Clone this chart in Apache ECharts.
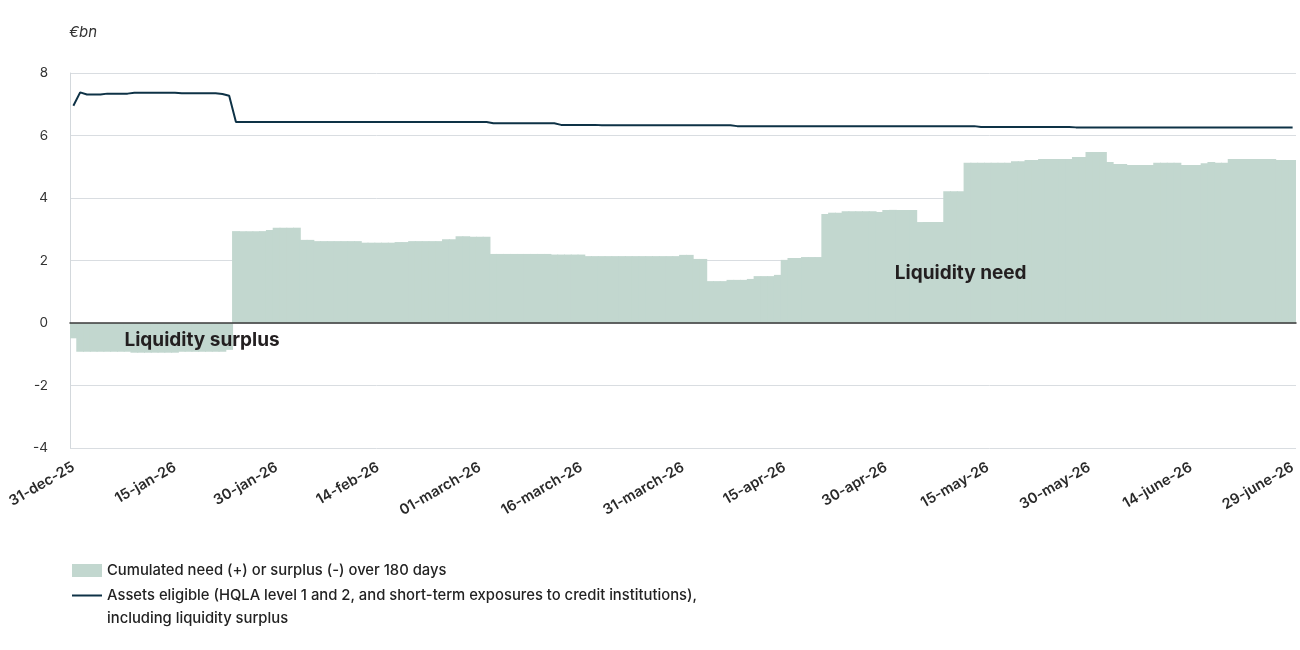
<!DOCTYPE html>
<html>
<head>
<meta charset="utf-8">
<script src="https://cdn.jsdelivr.net/npm/echarts@6/dist/echarts.min.js"></script>
<style>
  html, body { margin: 0; padding: 0; background: #fff; }
  #chart { width: 1300px; height: 650px; }
</style>
</head>
<body>
<div id="chart"></div>
<script>
// Daily categories, 31-dec-25 .. 29-june-26 (181 days)
const monthNames = ['jan', 'feb', 'march', 'apr', 'may', 'june', 'july', 'aug', 'sep', 'oct', 'nov', 'dec'];
const startDate = new Date(Date.UTC(2025, 11, 31));
const dayCount = 181;

// Cumulated need (+) or surplus (-) over 180 days, €bn
const needSurplus = [
  -0.49, -0.92, -0.92, -0.92, -0.92, -0.92, -0.92, -0.92, -0.92, -0.95, -0.95, -0.95, -0.95, -0.95, -0.95,
  -0.95, -0.92, -0.92, -0.92, -0.92, -0.92, -0.92, -0.92, -0.86, 2.94, 2.94, 2.94, 2.94, 2.94, 2.98,
  3.05, 3.05, 3.05, 3.05, 2.66, 2.66, 2.62, 2.62, 2.62, 2.62, 2.62, 2.62, 2.62, 2.57, 2.57,
  2.57, 2.57, 2.57, 2.59, 2.59, 2.62, 2.62, 2.62, 2.62, 2.62, 2.68, 2.68, 2.78, 2.78, 2.76,
  2.76, 2.76, 2.21, 2.21, 2.21, 2.21, 2.21, 2.21, 2.21, 2.21, 2.21, 2.19, 2.19, 2.19, 2.19,
  2.19, 2.14, 2.14, 2.14, 2.14, 2.14, 2.14, 2.14, 2.14, 2.14, 2.14, 2.14, 2.14, 2.14, 2.14,
  2.18, 2.18, 2.05, 2.05, 1.34, 1.34, 1.34, 1.38, 1.38, 1.38, 1.41, 1.50, 1.50, 1.50, 1.54,
  2.02, 2.08, 2.08, 2.11, 2.11, 2.11, 3.49, 3.53, 3.53, 3.58, 3.58, 3.58, 3.58, 3.58, 3.55,
  3.62, 3.62, 3.62, 3.62, 3.62, 3.23, 3.23, 3.23, 3.23, 4.22, 4.22, 4.22, 5.13, 5.13, 5.13,
  5.13, 5.13, 5.13, 5.13, 5.18, 5.18, 5.22, 5.22, 5.25, 5.25, 5.25, 5.25, 5.25, 5.31, 5.31,
  5.47, 5.47, 5.47, 5.15, 5.09, 5.09, 5.06, 5.06, 5.06, 5.06, 5.13, 5.13, 5.13, 5.13, 5.06,
  5.06, 5.06, 5.11, 5.15, 5.13, 5.13, 5.25, 5.25, 5.25, 5.25, 5.25, 5.25, 5.25, 5.22, 5.22,
  5.22
];

// Eligible assets incl. liquidity surplus, €bn
const eligibleAssets = [
  6.95, 7.38, 7.31, 7.31, 7.31, 7.34, 7.34, 7.34, 7.34, 7.37, 7.37, 7.37, 7.37, 7.37, 7.37,
  7.37, 7.35, 7.35, 7.35, 7.35, 7.35, 7.35, 7.33, 7.27, 6.43, 6.43, 6.43, 6.43, 6.43, 6.43,
  6.43, 6.43, 6.43, 6.43, 6.43, 6.43, 6.43, 6.43, 6.43, 6.43, 6.43, 6.43, 6.43, 6.43, 6.43,
  6.43, 6.43, 6.43, 6.43, 6.43, 6.43, 6.43, 6.43, 6.43, 6.43, 6.43, 6.43, 6.43, 6.43, 6.43,
  6.43, 6.43, 6.39, 6.39, 6.39, 6.39, 6.39, 6.39, 6.39, 6.39, 6.39, 6.39, 6.34, 6.34, 6.34,
  6.34, 6.34, 6.34, 6.33, 6.33, 6.33, 6.33, 6.33, 6.33, 6.33, 6.33, 6.33, 6.33, 6.33, 6.33,
  6.33, 6.33, 6.33, 6.33, 6.33, 6.33, 6.33, 6.33, 6.30, 6.30, 6.30, 6.30, 6.30, 6.30, 6.30,
  6.30, 6.30, 6.30, 6.30, 6.30, 6.30, 6.30, 6.30, 6.30, 6.30, 6.30, 6.30, 6.30, 6.30, 6.30,
  6.30, 6.30, 6.30, 6.30, 6.30, 6.30, 6.30, 6.30, 6.30, 6.30, 6.30, 6.30, 6.30, 6.30, 6.27,
  6.27, 6.27, 6.27, 6.27, 6.27, 6.27, 6.27, 6.27, 6.27, 6.27, 6.27, 6.27, 6.27, 6.26, 6.26,
  6.26, 6.26, 6.26, 6.26, 6.26, 6.26, 6.26, 6.26, 6.26, 6.26, 6.26, 6.26, 6.26, 6.26, 6.26,
  6.26, 6.26, 6.26, 6.26, 6.26, 6.26, 6.26, 6.26, 6.26, 6.26, 6.26, 6.26, 6.26, 6.26, 6.26,
  6.26
];

const needName = 'Cumulated need (+) or surplus (-) over 180 days';
const assetsName = 'Assets eligible (HQLA level 1 and 2, and short-term exposures to credit institutions),';
const assetsName2 = 'including liquidity surplus';

const days = [];
for (let i = 0; i < dayCount; i++) {
  const d = new Date(startDate.getTime() + i * 86400000);
  const dd = String(d.getUTCDate()).padStart(2, '0');
  const yy = String(d.getUTCFullYear()).slice(2);
  days.push(dd + '-' + monthNames[d.getUTCMonth()] + '-' + yy);
}

const font = 'Inter, "Noto Sans", sans-serif';
const chart = echarts.init(document.getElementById('chart'));

chart.setOption({
  animation: false,
  backgroundColor: '#ffffff',
  textStyle: { fontFamily: font },
  title: {
    text: '€bn',
    left: 64,
    top: 20,
    textStyle: { fontSize: 15, fontStyle: 'italic', fontWeight: 'normal', color: '#333', fontFamily: font }
  },
  grid: { left: 70, right: 4, top: 73, bottom: 202, containLabel: false },
  legend: {
    orient: 'vertical',
    left: 72,
    top: 559,
    height: 150,
    padding: 0,
    itemGap: -21,
    itemWidth: 30,
    itemHeight: 13,
    selectedMode: false,
    textStyle: { fontSize: 14.8, fontWeight: 500, color: '#222', lineHeight: 23, fontFamily: font },
    formatter: function (name) {
      return name === assetsName ? '\n' + name + '\n' + assetsName2 : name;
    },
    data: [
      { name: needName, icon: 'rect' },
      { name: assetsName, icon: 'path://M0,0 L30,0 L30,2 L0,2 Z', itemStyle: { color: '#0e3246' } }
    ]
  },
  xAxis: {
    type: 'category',
    data: days,
    z: 5,
    axisLine: { show: true, onZero: true, lineStyle: { color: '#3a3a3a', width: 1.5 } },
    axisTick: { show: false },
    axisLabel: {
      interval: 14,
      rotate: 30,
      margin: 18,
      fontSize: 14.5,
      fontWeight: 600,
      color: '#2a2a2a',
      fontFamily: font
    },
    splitLine: { show: false }
  },
  yAxis: {
    type: 'value',
    min: -4,
    max: 8,
    interval: 2,
    axisLine: { show: true, lineStyle: { color: '#d3d8dc', width: 1 } },
    axisTick: { show: false },
    axisLabel: { fontSize: 13.5, color: '#333', margin: 22, fontFamily: font },
    splitLine: { lineStyle: { color: '#d9dde1', width: 1 } }
  },
  series: [
    {
      name: needName,
      type: 'bar',
      data: needSurplus,
      barWidth: '115%',
      itemStyle: { color: '#c2d7cf' },
      markPoint: {
        symbol: 'circle',
        symbolSize: 0,
        label: {
          show: true,
          position: 'inside',
          fontSize: 19,
          fontWeight: 700,
          color: '#231f20',
          fontFamily: font,
          formatter: '{b}'
        },
        data: [
          { name: 'Liquidity surplus', coord: [days[19], -0.54] },
          { name: 'Liquidity need', coord: [days[131], 1.6] }
        ]
      }
    },
    {
      name: assetsName,
      type: 'line',
      data: eligibleAssets,
      symbol: 'none',
      z: 4,
      lineStyle: { color: '#0e3246', width: 2 },
      itemStyle: { color: '#0e3246' }
    }
  ]
});
</script>
</body>
</html>
